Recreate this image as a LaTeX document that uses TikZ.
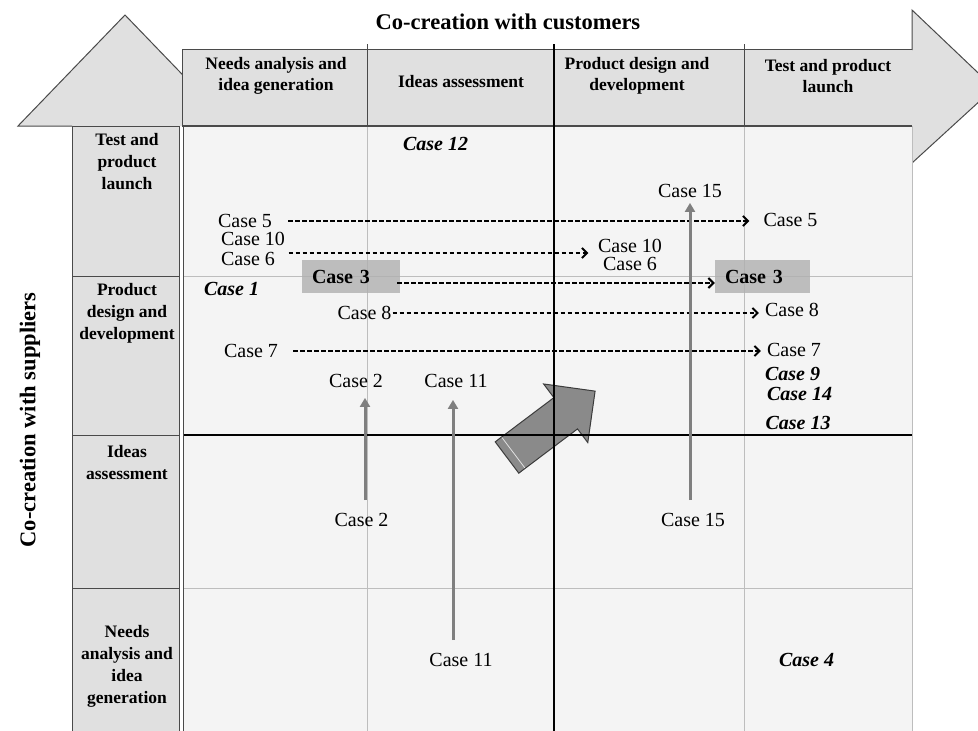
\documentclass[tikz,border=0pt]{standalone}
\usepackage{fontspec}
\setmainfont{Liberation Serif}
\usetikzlibrary{arrows.meta,calc}
\definecolor{hdr}{HTML}{E0E0E0}
\definecolor{bodyc}{HTML}{F4F4F4}
\definecolor{thinc}{HTML}{BDBDBD}
\definecolor{edgec}{HTML}{4A4A4A}
\definecolor{boxg}{HTML}{B0B0B0}
\definecolor{arrg}{HTML}{7F7F7F}
\definecolor{blockg}{HTML}{8A8A8A}
\begin{document}
\begin{tikzpicture}[x=1pt,y=-1pt,
  reg/.style={inner sep=0pt, font=\fontsize{20}{20}\selectfont},
  bi/.style={inner sep=0pt, font=\fontsize{20}{20}\selectfont\bfseries\itshape},
  hd/.style={align=center, inner sep=0pt, font=\fontsize{17.5}{21.5}\selectfont\bfseries},
  sd/.style={align=center, inner sep=0pt, font=\fontsize{17.5}{22}\selectfont\bfseries},
  ttl/.style={inner sep=0pt, font=\fontsize{22.5}{27}\selectfont\bfseries},
  dasharr/.style={line width=2pt, dash pattern=on 4.5pt off 2.5pt, -{Straight Barb[length=5pt,width=10pt]}},
  grayarr/.style={draw=arrg, line width=3pt, -{Triangle[length=9pt,width=10pt]}},
  casebox/.style={fill=boxg, fill opacity=0.8, text opacity=1, minimum height=33pt, inner xsep=10pt, inner ysep=0pt, align=left, font=\fontsize{20}{20}\selectfont\bfseries},
  edgeline/.style={draw=edgec, line width=1pt},
  thinline/.style={draw=thinc, line width=1pt},
  thickline/.style={draw=black, line width=2pt},
]
\useasboundingbox (0,0) rectangle (978,731);
\clip (0,0) rectangle (978,731);

% big arrow heads
\fill[hdr] (18,126) -- (125,15) -- (232,126) -- cycle;
\draw[edgeline] (72,126) -- (18,126) -- (125,15) -- (232,126);
\fill[hdr] (912,10) -- (994,88) -- (912,163) -- cycle;
\draw[edgeline] (912,50) -- (912,10) -- (994,88) -- (912,163);

% header row
\fill[hdr] (182,49) rectangle (912,126);
\draw[edgeline] (182,126) -- (182,49) -- (912,49);
\draw[edgeline, line width=1.3pt] (182,126) -- (912,126);
\foreach \x in {367.5,744} \draw[edgeline] (\x,44) -- (\x,126);

% body
\fill[bodyc] (184,126.6) rectangle (912,731);
\draw[thinline] (912,126) -- (912,731);

% left column
\fill[hdr] (72,126) rectangle (180,731);
\draw[edgeline] (72,731) -- (72,126) -- (180,126);
\foreach \y in {276,435,588} \draw[edgeline] (72,\y) -- (180,\y);
\draw[edgeline] (179.5,126) -- (179.5,731);
\draw[edgeline] (183.5,126) -- (183.5,731);

% block arrow
\begin{scope}[shift={(507,457.5)}, rotate=37]
  \filldraw[fill=blockg, draw=edgec!80!black, line width=1pt]
    (0,-19.6) -- (73.5,-19.6) -- (73.5,-36.7) -- (110.3,0) -- (73.5,36.7) -- (73.5,19.6) -- (0,19.6) -- cycle;
  \draw[white!75!gray, line width=0.8pt] (8,-19) -- (8,19);
\end{scope}

% grid lines in body
\foreach \y in {276,588} \draw[thinline] (184,\y) -- (912,\y);
\foreach \x in {367.5,744} \draw[thinline] (\x,126.6) -- (\x,731);
\draw[thickline] (184,435) -- (912,435);
\draw[thickline] (554,44) -- (554,731);

% titles
\node[ttl] (tc) at (508,22) {Co-creation with customers};
\node[ttl, rotate=90] (ts) at (30,420) {Co-creation with suppliers};

% header texts
\node[hd] (h1) at (276,76) {Needs analysis and\\idea generation};
\node[hd] (h2) at (461,82) {Ideas assessment};
\node[hd] (h3) at (637,76) {Product design and\\development};
\node[hd] (h4) at (828,76) {Test and product\\launch};

% side texts
\node[sd] (v1) at (127,162) {Test and\\product\\launch};
\node[sd] (v2) at (127,313) {Product\\design and\\development};
\node[sd] (v3) at (127,463) {Ideas\\assessment};
\node[sd] (v4) at (127,666) {Needs\\analysis and\\idea\\generation};

% case labels
\node[bi] (c12) at (435.5,144) {Case 12};
\node[bi] (c1) at (231.5,289) {Case 1};
\node[bi] (c9) at (792.5,374) {Case 9};
\node[bi] (c14) at (799.5,394) {Case 14};
\node[bi] (c13) at (798,423) {Case 13};
\node[bi] (c4) at (806.5,660) {Case 4};

\node[reg] (c5L) at (245,221) {Case 5};
\node[reg] (c5R) at (790.5,220) {Case 5};
\node[reg, align=left, font=\fontsize{20}{20}\selectfont] (c106L) at (253,249) {Case 10\\Case 6};
\node[reg, align=center, font=\fontsize{20}{18}\selectfont] (c106R) at (630,255) {Case 10\\Case 6};
\node[casebox, text width=78pt] (c3L) at (351,276.5) {Case 3};
\node[casebox, text width=75pt] (c3R) at (762.5,276.5) {Case 3};
\node[reg] (c8L) at (364.5,313) {Case 8};
\node[reg] (c8R) at (792,310) {Case 8};
\node[reg] (c7L) at (251,351) {Case 7};
\node[reg] (c7R) at (794,350) {Case 7};

\node[reg] (c2T) at (356,381) {Case 2};
\node[reg] (c2B) at (361.5,520) {Case 2};
\node[reg] (c11T) at (456,381) {Case 11};
\node[reg] (c11B) at (461,660) {Case 11};
\node[reg] (c15T) at (690,191) {Case 15};
\node[reg] (c15B) at (693,520) {Case 15};

% dashed arrows
\draw[dasharr, shorten <=16pt, shorten >=14pt] (c5L.east) -- (c5L.east -| c5R.west);
\coordinate (d2s) at ($(c106L.east)+(0,4)$);
\draw[dasharr, shorten <=3.5pt, shorten >=9.5pt] (d2s) -- (d2s -| c106R.west);
\coordinate (d3s) at ($(c3L.east)+(-3,6.5)$);
\draw[dasharr] (d3s) -- (d3s -| c3R.west);
\draw[dasharr, shorten <=1pt, shorten >=6pt] (c8L.east) -- (c8L.east -| c8R.west);
\draw[dasharr, shorten <=15pt, shorten >=6pt] (c7L.east) -- (c7L.east -| c7R.west);

% gray vertical arrows
\coordinate (x2) at (365,0);
\coordinate (x11) at (453,0);
\coordinate (x15) at (690,0);
\draw[grayarr, shorten <=13pt, shorten >=10pt] (x2 |- c2B.north) -- (x2 |- c2T.south);
\draw[grayarr, shorten <=13pt, shorten >=12pt] (x11 |- c11B.north) -- (x11 |- c11T.south);
\draw[grayarr, shorten <=13pt, shorten >=5pt] (x15 |- c15B.north) -- (x15 |- c15T.south);
\end{tikzpicture}
\end{document}
